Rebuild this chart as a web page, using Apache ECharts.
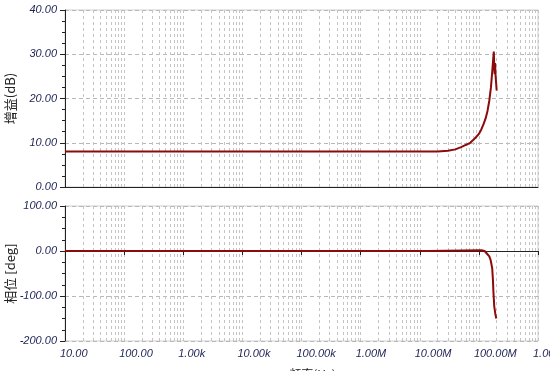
<!DOCTYPE html>
<html>
<head>
<meta charset="utf-8">
<script src="https://cdn.jsdelivr.net/npm/echarts@6/dist/echarts.min.js"></script>
<style>
html,body{margin:0;padding:0;background:#fff;}
#c{width:550px;height:371px;}
</style>
</head>
<body>
<div id="c"></div>
<script>
// ---- data ----
const gainFreq = [10, 1e7, 2e7, 3e7, 4e7, 5e7, 6e7, 7e7, 8e7, 9e7, 1e8, 1.1e8, 1.2e8, 1.3e8, 1.4e8, 1.5e8, 1.6e8, 1.68e8, 1.75e8, 1.79e8, 1.82e8, 1.85e8, 1.88e8, 1.92e8, 2.0e8];
const gainDb   = [8.0, 8.0, 8.05, 8.2, 8.5, 9.0, 9.5, 9.9, 10.6, 11.3, 12.0, 13.0, 14.2, 15.5, 17.2, 19.5, 22.5, 26.0, 29.0, 30.6, 27.0, 25.5, 28.0, 25.0, 21.8];
const phaseFreq = [10, 1.4e7, 1.45e7, 1.1e8, 1.25e8, 1.35e8, 1.5e8, 1.58e8, 1.68e8, 1.73e8, 1.76e8, 1.82e8, 1.9e8, 1.97e8];
const phaseDeg  = [0, 0, 1.5, 1.5, 0, -5, -12, -20, -38, -65, -90, -123, -140, -150];
const xTickLabels = {10:'10.00', 100:'100.00', 1000:'1.00k', 10000:'10.00k', 100000:'100.00k', 1000000:'1.00M', 10000000:'10.00M', 100000000:'100.00M', 1000000000:'1.00G'};
const decades = [10, 100, 1000, 10000, 100000, 1000000, 10000000, 100000000];
const minorMultipliers = [2, 3, 4, 5, 6, 7, 8, 9];

const minorLines = [];
decades.forEach(d => minorMultipliers.forEach(m => minorLines.push({xAxis: d * m})));

const labelColor = '#1e2456';
const labelFont = {fontFamily: '"Liberation Sans", Arial, sans-serif', fontStyle: 'italic', fontSize: 11, color: labelColor};
const gridDash = {type: [3, 3], color: '#c4c4c4', width: 1};

function xAxisCfg(gridIndex, showLabels) {
  return {
    type: 'log', logBase: 10, min: 10, max: 1e9, gridIndex: gridIndex,
    axisLine: {show: true, lineStyle: {color: '#222', width: 1}},
    axisTick: {show: showLabels, length: 4, inside: false, lineStyle: {color: '#222'}},
    axisLabel: showLabels ? Object.assign({
      show: true, align: 'left', margin: 7, padding: [0, 0, 0, -5],
      showMaxLabel: true, hideOverlap: false,
      formatter: v => xTickLabels[Math.round(v)] || ''
    }, labelFont) : {show: false},
    splitLine: {show: true, lineStyle: gridDash},
    name: showLabels ? '频率(Hz)' : '',
    nameLocation: 'middle', nameGap: 27, nameMoveOverlap: false,
    nameTextStyle: {fontFamily: 'Noto Sans CJK SC', fontSize: 12, color: '#222', padding: [0, 0, 0, 22]}
  };
}
function yAxisCfg(gridIndex, min, max, interval, name) {
  return {
    type: 'value', gridIndex: gridIndex, min: min, max: max, interval: interval,
    axisLine: {show: true, lineStyle: {color: '#222', width: 1}},
    axisTick: {show: true, length: 5, lineStyle: {color: '#222'}},
    minorTick: {show: true, splitNumber: 4, length: 3, lineStyle: {color: '#222'}},
    axisLabel: Object.assign({margin: 8, formatter: v => v.toFixed(2)}, labelFont),
    splitLine: {show: true, lineStyle: {type: [4, 3], color: '#b8b8b8', width: 1}},
    name: name, nameLocation: 'middle', nameGap: 48, nameRotate: 90, nameMoveOverlap: false,
    nameTextStyle: {fontFamily: 'Noto Sans CJK SC', fontSize: 13, color: '#222'}
  };
}

const chart = echarts.init(document.getElementById('c'), null, {renderer: 'canvas'});
chart.setOption({
  backgroundColor: '#fff',
  animation: false,
  grid: [
    {left: 65, right: 12, top: 10, height: 177, show: true, borderColor: '#cfcfcf', borderWidth: 1, backgroundColor: '#fff', containLabel: false, outerBoundsMode: 'none'},
    {left: 65, right: 12, top: 206, height: 135, show: true, borderColor: '#cfcfcf', borderWidth: 1, backgroundColor: '#fff', containLabel: false, outerBoundsMode: 'none'}
  ],
  xAxis: [xAxisCfg(0, false), xAxisCfg(1, true)],
  yAxis: [yAxisCfg(0, 0, 40, 10, '增益(dB)'), yAxisCfg(1, -200, 100, 100, '相位 [deg]')],
  series: [
    {type: 'line', xAxisIndex: 0, yAxisIndex: 0, showSymbol: false, symbol: 'none',
     data: gainFreq.map((f, i) => [f, gainDb[i]]),
     lineStyle: {color: '#8b0a0a', width: 2}, z: 5,
     markLine: {silent: true, symbol: 'none', label: {show: false}, lineStyle: gridDash, data: minorLines, animation: false}},
    {type: 'line', xAxisIndex: 1, yAxisIndex: 1, showSymbol: false, symbol: 'none',
     data: phaseFreq.map((f, i) => [f, phaseDeg[i]]),
     lineStyle: {color: '#8b0a0a', width: 2}, z: 5,
     markLine: {silent: true, symbol: 'none', label: {show: false}, lineStyle: gridDash, data: minorLines, animation: false}}
  ]
});
</script>
</body>
</html>
